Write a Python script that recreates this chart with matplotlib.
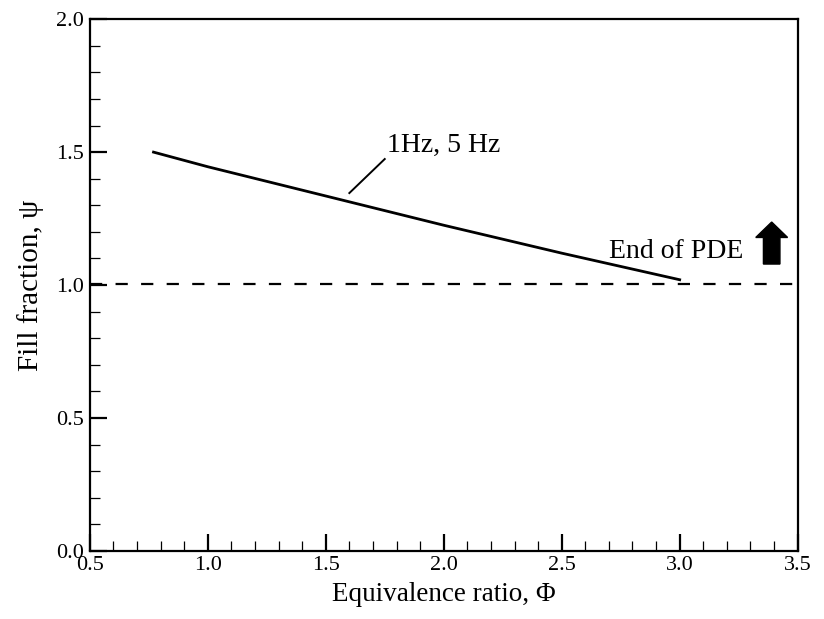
import matplotlib
matplotlib.use("Agg")
import matplotlib.pyplot as plt
from matplotlib.ticker import MultipleLocator
from matplotlib.patches import FancyArrow

plt.rcParams['font.family'] = ['Liberation Serif', 'DejaVu Serif']
plt.rcParams['mathtext.fontset'] = 'stix'

phi = [0.77, 1.0, 1.5, 2.0, 2.5, 3.0]
psi = [1.50, 1.445, 1.335, 1.225, 1.12, 1.02]
end_level = 1.005
x_ticks = [0.5, 1.0, 1.5, 2.0, 2.5, 3.0, 3.5]
y_ticks = [0.0, 0.5, 1.0, 1.5, 2.0]

fig = plt.figure(figsize=(8.24, 6.19), dpi=100)
ax = fig.add_axes([0.109, 0.110, 0.859, 0.859])

ax.plot(phi, psi, color='black', lw=2.0)
ax.axhline(end_level, color='black', lw=1.6, dashes=(5.5, 6))

ax.set_xlim(0.5, 3.5)
ax.set_ylim(0.0, 2.0)
ax.set_xticks(x_ticks)
ax.set_yticks(y_ticks)
ax.set_xticklabels([f"{v:.1f}" for v in x_ticks])
ax.set_yticklabels([f"{v:.1f}" for v in y_ticks])
ax.xaxis.set_minor_locator(MultipleLocator(0.1))
ax.yaxis.set_minor_locator(MultipleLocator(0.1))
ax.tick_params(which='major', direction='in', length=12, width=1.6, labelsize=16, pad=4)
ax.tick_params(which='minor', direction='in', length=7, width=0.9)
for s in ax.spines.values():
    s.set_linewidth(1.6)

ax.set_xlabel('Equivalence ratio, Φ', fontsize=19.5, labelpad=5)
ax.set_ylabel('Fill fraction, ψ', fontsize=21, labelpad=9)

ax.plot([1.60, 1.75], [1.346, 1.474], color='black', lw=1.4)
ax.text(1.758, 1.50, '1Hz, 5 Hz', fontsize=20, ha='left', va='baseline')
ax.text(2.70, 1.10, 'End of PDE', fontsize=20, ha='left', va='baseline')

ax.add_patch(FancyArrow(3.39, 1.079, 0, 0.158, width=0.07, head_width=0.135,
                        head_length=0.058, length_includes_head=True,
                        color='black'))

fig.savefig('out.png', dpi=100)
